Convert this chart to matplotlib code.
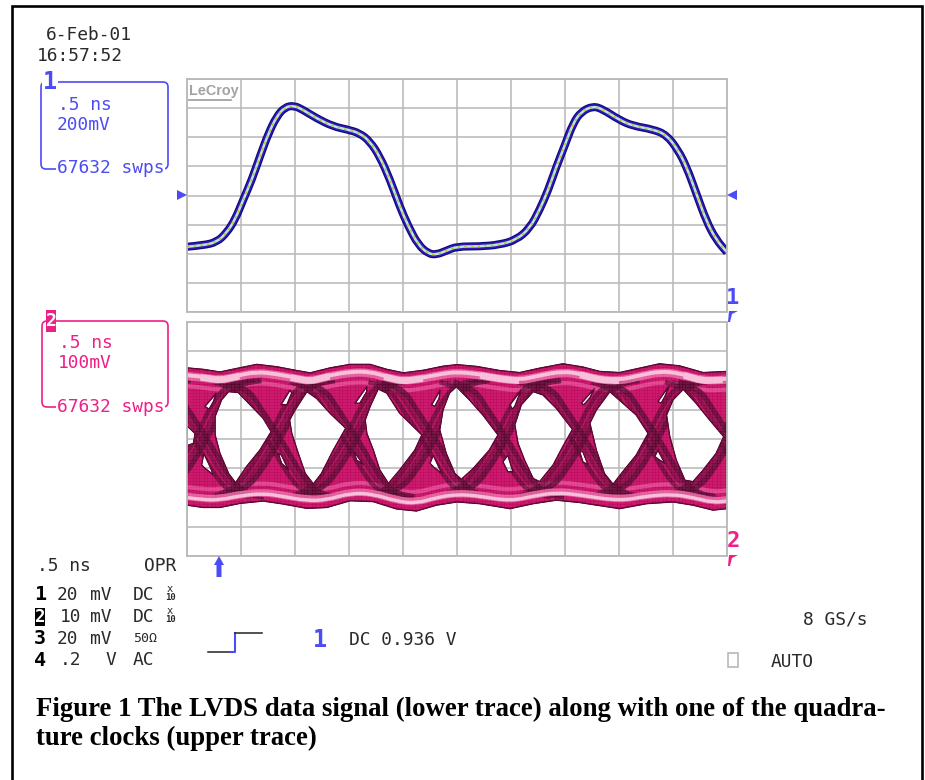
import matplotlib
matplotlib.use('Agg')
import matplotlib.pyplot as plt
import numpy as np
from matplotlib.patches import FancyBboxPatch, PathPatch, Polygon, Rectangle
from matplotlib.path import Path

W, H = 925, 780

# clock trace, in scope divisions
clock_t = [0, .30, .55, .73, .89, 1.04, 1.20, 1.35, 1.51, 1.66, 1.81, 1.98, 2.15, 2.40, 2.71, 2.96, 3.20, 3.39,
           3.57, 3.76, 3.94, 4.10, 4.28, 4.47, 4.62, 4.81, 5.0, 5.42, 5.79, 6.10, 6.35, 6.53, 6.69, 6.84, 7.0,
           7.15, 7.30, 7.52, 7.70, 8.01, 8.26, 8.63, 8.88, 9.09, 9.25, 9.43, 9.62, 9.80, 10]
clock_v = [-1.76, -1.71, -1.60, -1.29, -.83, -.15, .54, 1.34, 2.14, 2.71, 3.03, 3.09, 2.94, 2.65, 2.37, 2.27, 2.14,
           1.85, 1.34, .54, -.38, -1.06, -1.69, -2.0, -2.03, -1.89, -1.75, -1.75, -1.69, -1.52, -1.12, -.49, .19,
           .99, 1.74, 2.48, 2.88, 3.07, 2.96, 2.59, 2.39, 2.27, 2.08, 1.57, .99, .08, -.89, -1.52, -1.95]

# eye diagram envelope
top_t = [0, .30, .61, .92, 1.29, 1.66, 2.03, 2.28, 2.65, 3.02, 3.39, 3.70, 4.01, 4.38, 4.75, 5.0, 5.36, 5.79, 6.16,
         6.53, 6.96, 7.33, 7.64, 8.01, 8.38, 8.75, 9.12, 9.56, 10]
top_v = [2.43, 2.38, 2.29, 2.41, 2.55, 2.47, 2.34, 2.26, 2.43, 2.55, 2.55, 2.38, 2.26, 2.35, 2.49, 2.54, 2.48, 2.34,
         2.27, 2.42, 2.57, 2.46, 2.31, 2.27, 2.42, 2.57, 2.50, 2.27, 2.31]
bot_t = [0, .30, .61, .98, 1.41, 1.78, 2.22, 2.59, 3.02, 3.45, 3.88, 4.25, 4.62, 5.0, 5.42, 5.98, 6.41, 6.84, 7.27,
         8.01, 8.51, 9.0, 9.37, 9.74, 10]
bot_v = [-2.26, -2.34, -2.34, -2.2, -2.12, -2.22, -2.37, -2.34, -2.11, -2.14, -2.39, -2.46, -2.26, -2.15, -2.21,
         -2.38, -2.21, -2.09, -2.17, -2.38, -2.21, -2.15, -2.26, -2.43, -2.38]

# open eyes and the small gaps between strands
eyes = [
    [(-.05, .54), (.15, .19), (.12, -.15), (-.05, -.26)],
    [(.77, 1.62), (.95, 1.59), (1.17, 1.17), (1.41, .71), (1.56, .25), (1.35, -.38), (1.10, -.95), (.90, -1.50),
     (.77, -1.18), (.61, -.49), (.52, .14), (.52, .77), (.64, 1.34)],
    [(2.22, 1.62), (2.40, 1.39), (2.65, .88), (2.94, .37), (2.71, -.38), (2.49, -1.18), (2.34, -1.54), (2.19, -1.18),
     (2.06, -.49), (1.94, .19), (1.90, .65), (2.0, .99)],
    [(3.54, 1.71), (3.70, 1.57), (3.94, .88), (4.35, .14), (4.22, -.38), (3.94, -1.06), (3.73, -1.52), (3.57, -1.06),
     (3.45, -.38), (3.33, .19), (3.30, .65), (3.39, 1.11)],
    [(4.99, 1.79), (5.23, 1.34), (5.48, .82), (5.76, .14), (5.60, -.38), (5.30, -1.01), (5.08, -1.38), (4.96, -1.18),
     (4.80, -.49), (4.68, .31), (4.74, .99), (4.86, 1.57)],
    [(6.41, 1.62), (6.59, 1.51), (6.84, 1.05), (7.14, .33), (6.96, -.26), (6.78, -.89), (6.53, -1.46), (6.41, -1.35),
     (6.25, -.72), (6.13, -.15), (6.07, .48), (6.19, 1.17)],
    [(7.83, 1.62), (8.04, 1.28), (8.32, .82), (8.54, .19), (8.32, -.55), (8.07, -1.12), (7.89, -1.55), (7.73, -1.18),
     (7.58, -.38), (7.46, .54), (7.58, .99)],
    [(9.19, 1.70), (9.43, 1.22), (9.68, .65), (9.94, .08), (9.80, -.49), (9.56, -1.06), (9.37, -1.46), (9.22, -1.41),
     (9.06, -.72), (8.94, .08), (8.88, .82), (9.0, 1.34)],
    [(.33, 1.11), (.46, 1.39), (.54, 1.57), (.49, 1.28), (.41, 1.02)],
    [(1.74, 1.17), (1.91, 1.68), (1.94, 1.57), (1.85, 1.17)],
    [(3.11, 1.22), (3.33, 1.79), (3.33, 1.62), (3.20, 1.22)],
    [(4.53, 1.17), (4.69, 1.68), (4.67, 1.39), (4.59, 1.11)],
    [(5.98, 1.17), (6.19, 1.68), (6.07, 1.11), (6.02, 1.02)],
    [(7.30, 1.22), (7.55, 1.74), (7.46, 1.40), (7.35, 1.17)],
    [(8.72, 1.28), (8.94, 1.85), (8.85, 1.45), (8.78, 1.22)],
    [(.27, -.89), (.31, -.49), (.43, -.95), (.49, -1.23), (.33, -1.0)],
    [(1.69, -.49), (1.75, -.55), (1.88, -1.06), (1.75, -.83)],
    [(3.08, -.38), (3.27, -.89), (3.14, -.72)],
    [(4.5, -.83), (4.56, -.55), (4.72, -1.18), (4.56, -.95)],
    [(5.85, -.78), (5.94, -.55), (6.04, -1.12), (5.94, -1.12)],
    [(7.27, -.43), (7.33, -.43), (7.43, -.89), (7.33, -.78)],
    [(8.66, -.6), (8.72, -.38), (8.85, -.83), (8.75, -.72)],
]

crossings = [-.98, .33, 1.69, 3.11, 4.56, 5.88, 7.33, 8.69, 10.05]
troughs = [.61, 2.28, 4.01, 5.79, 7.64, 9.56]

# one rising and one falling edge around a crossing at (0, 0)
rise_dt = [-1.0, -.66, -.38, 0, .32, .62, 1.0]
rise_v = [-1.95, -1.72, -1.15, 0, 1.25, 1.9, 2.0]
fall_dt = [-1.0, -.62, -.38, 0, .38, .68, 1.05]
fall_v = [1.95, 1.75, 1.05, 0, -1.25, -1.85, -1.98]

GRID = '#b9b9b9'
BLUE = '#4c4cf5'
PINK = '#ee1f86'
TEXT = '#2a2a2a'
MONO = 'DejaVu Sans Mono'


def px_axes(fig, x0, y0, x1, y1):
    ax = fig.add_axes([x0 / W, 1 - y1 / H, (x1 - x0) / W, (y1 - y0) / H])
    ax.set_xlim(0, 10)
    ax.set_ylim(-4, 4)
    ax.set_xticks(range(11))
    ax.set_yticks(range(-4, 5))
    ax.tick_params(length=0, labelbottom=False, labelleft=False)
    ax.grid(True, color=GRID, lw=1.15)
    ax.set_axisbelow(True)
    for s in ax.spines.values():
        s.set_color(GRID)
        s.set_linewidth(1.3)
    return ax


def ring(points, clockwise):
    pts = np.array(points, dtype=float)
    area = np.sum(pts[:, 0] * np.roll(pts[:, 1], -1) - np.roll(pts[:, 0], -1) * pts[:, 1])
    if (area < 0) != clockwise:
        pts = pts[::-1]
    return pts


def eye_path():
    outer = list(zip(top_t, top_v)) + list(zip(bot_t[::-1], bot_v[::-1]))
    verts, codes = [], []
    rings = [ring(outer, True)] + [ring(e, False) for e in eyes]
    for r in rings:
        verts += list(r) + [r[0]]
        codes += [Path.MOVETO] + [Path.LINETO] * (len(r) - 1) + [Path.CLOSEPOLY]
    return Path(verts, codes)


def smooth_path(t, v):
    # read points act as control points of a quadratic curve
    pts = np.column_stack([t, v])
    verts = [pts[0]]
    codes = [Path.MOVETO]
    for i in range(1, len(pts) - 1):
        verts += [pts[i], (pts[i] + pts[i + 1]) / 2]
        codes += [Path.CURVE3, Path.CURVE3]
    verts.append(pts[-1])
    codes.append(Path.LINETO)
    return Path(verts, codes)


def stroke(ax, t, v, color, lw, **kw):
    patch = PathPatch(smooth_path(t, v), fc='none', ec=color, lw=lw, capstyle='butt', joinstyle='round', **kw)
    ax.add_patch(patch)
    return patch


def draw_clock(ax):
    stroke(ax, clock_t, clock_v, '#08087c', 5.8)
    stroke(ax, clock_t, clock_v, '#3a14b4', 4.3)
    stroke(ax, clock_t, clock_v, '#a8f0e0', 1.8)
    stroke(ax, clock_t, clock_v, '#d4c21c', 1.2, linestyle=(0, (1.5, 2.5)))
    ax.text(.04, 3.6, 'LeCroy', color='#a3a3a3', fontsize=10.4, fontweight='bold', family='Liberation Sans',
            va='center', ha='left')
    ax.plot([.03, .82], [3.28, 3.28], color='#a3a3a3', lw=1.3)


def draw_eye(ax):
    band = PathPatch(eye_path(), facecolor='#c4065f', edgecolor='#5e0030', lw=1.0)
    ax.add_patch(band)
    arts = []
    # light ridges that follow the envelope
    arts.append(stroke(ax, top_t, np.array(top_v) - .62, '#de3c8a', 3.0))
    arts.append(stroke(ax, bot_t, np.array(bot_v) + .62, '#de3c8a', 3.0))
    # every edge is a bundle of a few traces, drawn see-through so they build up
    for xc in crossings:
        for shift, width, alpha in [(-.2, 3.4, .7), (-.07, 3.0, .55), (.05, 4.0, .8)]:
            arts.append(stroke(ax, xc + np.array(rise_dt) + shift * .9, rise_v, '#55002b', width, alpha=alpha))
            arts.append(stroke(ax, xc + np.array(fall_dt) + shift, fall_v, '#55002b', width, alpha=alpha))
    arts.append(stroke(ax, top_t, np.array(top_v) - .28, '#e8609f', 6.0, alpha=.9))
    arts.append(stroke(ax, top_t, np.array(top_v) - .25, '#f9bcd9', 2.8))
    arts.append(stroke(ax, bot_t, np.array(bot_v) + .30, '#e8609f', 5.4, alpha=.9))
    arts.append(stroke(ax, bot_t, np.array(bot_v) + .26, '#f9bcd9', 2.4))
    for x in troughs:
        xs = [x - .36, x - .18, x, x + .18, x + .36]
        ys = np.interp(xs, top_t, top_v) - .28
        arts.append(stroke(ax, xs, ys, '#f9bcd9', 4.8))
    # fine scan mesh
    arts.append(ax.vlines(np.arange(0, 10, .05), -3, 3, color='white', lw=.35, alpha=.2))
    arts.append(ax.hlines(np.arange(-3, 3, .1), 0, 10, color='white', lw=.35, alpha=.2))
    for a in arts:
        a.set_clip_path(band)
    # thin dark edge on top of the strands
    ax.add_patch(PathPatch(eye_path(), facecolor='none', edgecolor='#5e0030', lw=.7))


def label(ax, x, y, s, color=TEXT, size=12.9, **kw):
    kw.setdefault('family', MONO)
    return ax.text(x, y, s, color=color, fontsize=size, va='center', ha='left', **kw)


def draw_overlay(ax):
    # page frame, open at the bottom
    ax.plot([12, 12, 922, 922], [H, 6, 6, H], color='black', lw=1.9, solid_joinstyle='miter')

    label(ax, 46, 35, '6-Feb-01')
    label(ax, 37, 56, '16:57:52')

    ax.add_patch(FancyBboxPatch((41, 82), 127, 87, boxstyle='round,pad=0,rounding_size=5', fc='none', ec=BLUE, lw=1.2))
    label(ax, 58, 105, '.5 ns', color=BLUE)
    label(ax, 57, 125, '200mV', color=BLUE)
    label(ax, 57, 168, '67632 swps', color=BLUE, bbox=dict(fc='white', ec='none', pad=.5))
    ax.text(50, 82, '1', color=BLUE, fontsize=17, family=MONO, fontweight='bold', ha='center', va='center',
            bbox=dict(fc='white', ec='none', pad=.3))

    ax.add_patch(FancyBboxPatch((42, 321), 126, 86, boxstyle='round,pad=0,rounding_size=5', fc='none', ec=PINK, lw=1.2))
    label(ax, 59, 343, '.5 ns', color=PINK)
    label(ax, 58, 363, '100mV', color=PINK)
    label(ax, 57, 407, '67632 swps', color=PINK, bbox=dict(fc='white', ec='none', pad=.5))
    ax.add_patch(Rectangle((46, 310), 10, 22, fc=PINK, ec='none', zorder=3))
    ax.text(51, 321, '2', color='white', fontsize=13, family=MONO, fontweight='bold', ha='center', va='center', zorder=4)

    # offset and trigger markers
    ax.add_patch(Polygon([(177, 190), (187, 195), (177, 200)], fc=BLUE, ec='none'))
    ax.add_patch(Polygon([(737, 190), (727, 195), (737, 200)], fc=BLUE, ec='none'))
    ax.text(733, 298, '1', color=BLUE, fontsize=16, family=MONO, fontweight='bold', ha='center', va='center')
    ax.add_patch(Polygon([(729, 311), (738, 311), (732, 314), (730, 322), (728, 322)], fc=BLUE, ec='none'))
    ax.text(733, 541, '2', color=PINK, fontsize=16, family=MONO, ha='center', va='center', fontweight='bold')
    ax.add_patch(Polygon([(729, 555), (738, 555), (732, 558), (730, 566), (728, 566)], fc=PINK, ec='none'))
    ax.add_patch(Polygon([(219, 556), (224, 565), (221.5, 565), (221.5, 577), (216.5, 577), (216.5, 565), (214, 565)],
                         fc=BLUE, ec='none'))

    label(ax, 37, 566, '.5 ns')
    label(ax, 144, 566, 'OPR')

    rows = [(595, '1', 57, '20', 90, 'mV'), (617, '2', 60, '10', 90, 'mV'),
            (639, '3', 57, '20', 90, 'mV'), (660, '4', 60, '.2', 105, 'V')]
    for y, n, x1, s1, x2, s2 in rows:
        if n == '2':
            ax.add_patch(Rectangle((35, y - 9), 10, 18, fc='black', ec='none'))
            ax.text(40, y, n, color='white', fontsize=12.5, family=MONO, fontweight='bold', ha='center', va='center')
        else:
            ax.text(40, y, n, color='black', fontsize=14.5, family=MONO, fontweight='bold', ha='center', va='center')
        label(ax, x1, y, s1)
        label(ax, x2, y, s2)
    label(ax, 133, 595, 'DC')
    label(ax, 133, 617, 'DC')
    label(ax, 133, 639, '50Ω', size=9.5)
    label(ax, 133, 660, 'AC')
    for y in (595, 617):
        ax.text(170, y - 6, 'x', color=TEXT, fontsize=7.5, family=MONO, ha='center', va='center')
        ax.text(170, y + 3, '10', color=TEXT, fontsize=6.5, family=MONO, ha='center', va='center', fontweight='bold')

    ax.plot([208, 231], [652, 652], color='#222222', lw=1.1)
    ax.plot([231, 235, 235], [652, 652, 633], color=BLUE, lw=1.5)
    ax.plot([235, 262], [633, 633], color='#222222', lw=1.1)
    ax.text(320, 640, '1', color=BLUE, fontsize=17, family=MONO, fontweight='bold', ha='center', va='center')
    label(ax, 349, 640, 'DC 0.936 V')

    label(ax, 803, 619, '8 GS/s')
    ax.add_patch(Rectangle((727.5, 653), 10, 14, fc='white', ec='#b9b9b9', lw=1.2))
    label(ax, 771, 662, 'AUTO')

    cap = dict(color='black', fontsize=19.3, family='Liberation Serif', fontweight='bold', va='baseline', ha='left')
    ax.text(36, 716, 'Figure 1 The LVDS data signal (lower trace) along with one of the quadra-', **cap)
    ax.text(36, 745, 'ture clocks (upper trace)', **cap)


fig = plt.figure(figsize=(W / 100, H / 100), dpi=100, facecolor='white')
upper = px_axes(fig, 187, 79, 727, 312)
lower = px_axes(fig, 187, 322, 727, 556)
draw_clock(upper)
draw_eye(lower)

overlay = fig.add_axes([0, 0, 1, 1], facecolor='none')
overlay.set_xlim(0, W)
overlay.set_ylim(H, 0)
overlay.axis('off')
draw_overlay(overlay)

fig.savefig('out.png', dpi=100)
